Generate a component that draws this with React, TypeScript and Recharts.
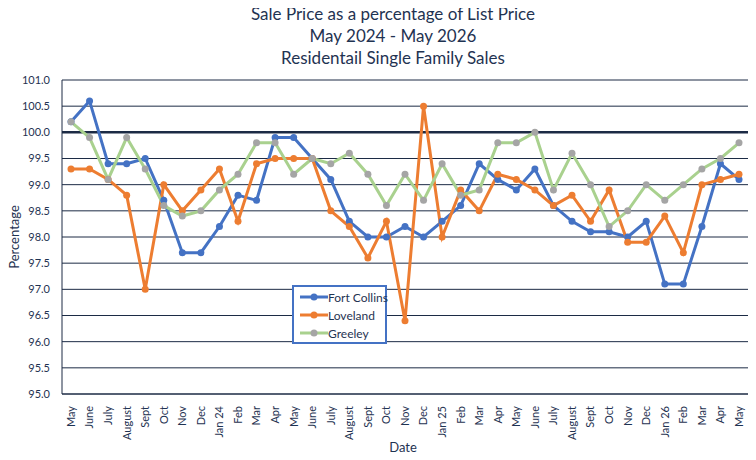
import React from 'react';
import {
  LineChart,
  Line,
  XAxis,
  YAxis,
  CartesianGrid,
  ReferenceLine,
  Legend,
  Label,
} from 'recharts';

const months = [
  'May', 'June', 'July', 'August', 'Sept', 'Oct', 'Nov', 'Dec', 'Jan 24',
  'Feb', 'Mar', 'Apr', 'May', 'June', 'July', 'August', 'Sept', 'Oct', 'Nov', 'Dec', 'Jan 25',
  'Feb', 'Mar', 'Apr', 'May', 'June', 'July', 'August', 'Sept', 'Oct', 'Nov', 'Dec', 'Jan 26',
  'Feb', 'Mar', 'Apr', 'May',
];

const fortCollins = [
  100.2, 100.6, 99.4, 99.4, 99.5, 98.7, 97.7, 97.7, 98.2,
  98.8, 98.7, 99.9, 99.9, 99.5, 99.1, 98.3, 98.0, 98.0, 98.2, 98.0, 98.3,
  98.6, 99.4, 99.1, 98.9, 99.3, 98.6, 98.3, 98.1, 98.1, 98.0, 98.3, 97.1,
  97.1, 98.2, 99.4, 99.1,
];

const loveland = [
  99.3, 99.3, 99.1, 98.8, 97.0, 99.0, 98.5, 98.9, 99.3,
  98.3, 99.4, 99.5, 99.5, 99.5, 98.5, 98.2, 97.6, 98.3, 96.4, 100.5, 98.0,
  98.9, 98.5, 99.2, 99.1, 98.9, 98.6, 98.8, 98.3, 98.9, 97.9, 97.9, 98.4,
  97.7, 99.0, 99.1, 99.2,
];

const greeley = [
  100.2, 99.9, 99.1, 99.9, 99.3, 98.6, 98.4, 98.5, 98.9,
  99.2, 99.8, 99.8, 99.2, 99.5, 99.4, 99.6, 99.2, 98.6, 99.2, 98.7, 99.4,
  98.8, 98.9, 99.8, 99.8, 100.0, 98.9, 99.6, 99.0, 98.2, 98.5, 99.0, 98.7,
  99.0, 99.3, 99.5, 99.8,
];

const yTicks = [95, 95.5, 96, 96.5, 97, 97.5, 98, 98.5, 99, 99.5, 100, 100.5, 101];

const data = months.map((m, i) => ({
  idx: i,
  month: m,
  fortCollins: fortCollins[i],
  loveland: loveland[i],
  greeley: greeley[i],
}));

const FONT = 'Lato, "Open Sans", sans-serif';
const NAVY = '#1f3352';
const GRID = '#1c2b45';

const seriesKeys = [
  { name: 'Fort Collins', line: '#4472c4', dot: '#4472c4' },
  { name: 'Loveland', line: '#ed7d31', dot: '#ed7d31' },
  { name: 'Greeley', line: '#a9d18e', dot: '#a5a5a5' },
];

const MonthTick = (props: any) => {
  const { x, y, payload } = props;
  return (
    <text
      x={x}
      y={y + 4}
      transform={`rotate(-90, ${x}, ${y + 4})`}
      textAnchor="end"
      dy="0.35em"
      fontSize={11}
      fontFamily={FONT}
      fill={NAVY}
    >
      {months[payload.value]}
    </text>
  );
};

const LegendBox = () => (
  <div
    style={{
      border: '2px solid #4472c4',
      background: '#fff',
      width: 91,
      height: 54,
      boxSizing: 'content-box',
      fontFamily: FONT,
      fontSize: 12,
      color: NAVY,
      whiteSpace: 'nowrap',
      paddingTop: 1,
    }}
  >
    {seriesKeys.map((s) => (
      <div key={s.name} style={{ display: 'flex', alignItems: 'center', height: 18 }}>
        <svg width={34} height={10} style={{ marginLeft: 6, flexShrink: 0 }}>
          <line x1={0} y1={5} x2={28} y2={5} stroke={s.line} strokeWidth={3} />
          <circle cx={14} cy={5} r={3.5} fill={s.dot} />
        </svg>
        <span style={{ marginLeft: -6 }}>{s.name}</span>
      </div>
    ))}
  </div>
);

export default function App() {
  return (
    <div style={{ position: 'relative', width: 756, height: 460, margin: -8, background: '#fff' }}>
      <div
        style={{
          position: 'absolute',
          top: 3,
          left: 0,
          width: 786,
          textAlign: 'center',
          fontFamily: FONT,
          fontSize: 17,
          lineHeight: '22px',
          color: NAVY,
          zIndex: 2,
        }}
      >
        <div>Sale Price as a percentage of List Price</div>
        <div>May 2024 - May 2026</div>
        <div>Residentail Single Family Sales</div>
      </div>
      <LineChart
        width={756}
        height={460}
        data={data}
        margin={{ top: 80, right: 8, bottom: 0, left: 0 }}
      >
        <CartesianGrid vertical={false} stroke={GRID} strokeWidth={1} />
        <XAxis
          dataKey="idx"
          type="category"
          interval={0}
          tickLine={false}
          axisLine={{ stroke: GRID }}
          padding={{ left: 9, right: 9 }}
          tick={<MonthTick />}
          height={66}
        >
          <Label
            content={() => (
              <text x={403} y={452} textAnchor="middle" fontSize={13} fontFamily={FONT} fill={NAVY}>
                Date
              </text>
            )}
          />
        </XAxis>
        <YAxis
          width={62}
          domain={[95, 101]}
          ticks={yTicks}
          interval={0}
          tickLine={false}
          axisLine={{ stroke: GRID }}
          tickMargin={6}
          tickFormatter={(v: number) => v.toFixed(1)}
          tick={{ fontSize: 11, fontFamily: FONT, fill: NAVY }}
        >
          <Label
            content={() => (
              <text
                x={14}
                y={237}
                transform="rotate(-90, 14, 237)"
                textAnchor="middle"
                dy="0.35em"
                fontSize={13}
                fontFamily={FONT}
                fill={NAVY}
              >
                Percentage
              </text>
            )}
          />
        </YAxis>
        <ReferenceLine y={100} stroke={GRID} strokeWidth={2.5} />
        <Legend
          layout="vertical"
          align="center"
          verticalAlign="middle"
          content={<LegendBox />}
          wrapperStyle={{ left: 292, top: 285, width: 95, height: 58 }}
        />
        <Line
          dataKey="fortCollins"
          name="Fort Collins"
          stroke="#4472c4"
          strokeWidth={3}
          dot={{ r: 3.5, fill: '#4472c4', stroke: 'none' }}
          isAnimationActive={false}
        />
        <Line
          dataKey="loveland"
          name="Loveland"
          stroke="#ed7d31"
          strokeWidth={3}
          dot={{ r: 3.5, fill: '#ed7d31', stroke: 'none' }}
          isAnimationActive={false}
        />
        <Line
          dataKey="greeley"
          name="Greeley"
          stroke="#a9d18e"
          strokeWidth={3}
          dot={{ r: 3.5, fill: '#a5a5a5', stroke: 'none' }}
          isAnimationActive={false}
        />
      </LineChart>
    </div>
  );
}
